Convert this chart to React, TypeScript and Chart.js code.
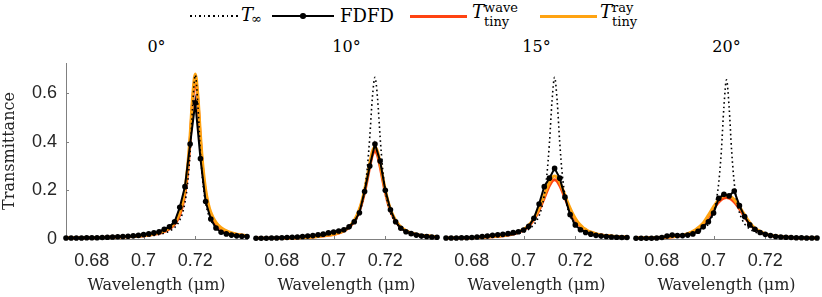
import React, { useEffect, useRef } from 'react';
import { Chart, registerables } from 'chart.js';

Chart.register(...registerables);

// ---------- data ----------
const PANEL_TITLES = ['0°', '10°', '15°', '20°'];

// FDFD sample wavelengths (µm)
const FDFD_WL = [0.670, 0.672, 0.674, 0.676, 0.678, 0.680, 0.682, 0.684, 0.686, 0.688, 0.690, 0.692, 0.694, 0.696, 0.698, 0.700, 0.702, 0.704, 0.706, 0.708, 0.710, 0.712, 0.714, 0.716, 0.718, 0.720, 0.722, 0.724, 0.726, 0.728, 0.730, 0.732, 0.734, 0.736, 0.738, 0.740];

const FDFD_0 = [0.004, 0.004, 0.004, 0.004, 0.005, 0.005, 0.005, 0.006, 0.007, 0.008, 0.009, 0.010, 0.011, 0.013, 0.015, 0.018, 0.021, 0.025, 0.030, 0.040, 0.050, 0.071, 0.130, 0.215, 0.390, 0.560, 0.330, 0.154, 0.082, 0.045, 0.028, 0.021, 0.016, 0.013, 0.011, 0.010];
const FDFD_10 = [0.003, 0.003, 0.003, 0.004, 0.004, 0.005, 0.006, 0.007, 0.008, 0.010, 0.012, 0.014, 0.017, 0.020, 0.025, 0.029, 0.033, 0.038, 0.050, 0.071, 0.108, 0.195, 0.300, 0.390, 0.320, 0.200, 0.120, 0.071, 0.044, 0.030, 0.022, 0.016, 0.012, 0.010, 0.008, 0.007];
const FDFD_15 = [0.004, 0.004, 0.004, 0.005, 0.005, 0.006, 0.008, 0.010, 0.012, 0.015, 0.017, 0.019, 0.022, 0.026, 0.030, 0.037, 0.052, 0.085, 0.144, 0.215, 0.250, 0.290, 0.250, 0.172, 0.100, 0.058, 0.038, 0.027, 0.020, 0.015, 0.012, 0.010, 0.008, 0.007, 0.006, 0.006];
const FDFD_20 = [0.003, 0.003, 0.003, 0.003, 0.004, 0.006, 0.012, 0.016, 0.014, 0.014, 0.016, 0.021, 0.032, 0.050, 0.071, 0.107, 0.167, 0.184, 0.177, 0.197, 0.137, 0.092, 0.058, 0.040, 0.027, 0.019, 0.014, 0.010, 0.008, 0.007, 0.006, 0.005, 0.005, 0.004, 0.004, 0.004];

// wavelengths of the continuous curves (µm)
const CURVE_WL = [0.670, 0.674, 0.678, 0.682, 0.686, 0.690, 0.693, 0.696, 0.698, 0.700, 0.701, 0.702, 0.703, 0.704, 0.705, 0.706, 0.707, 0.708, 0.709, 0.710, 0.711, 0.712, 0.713, 0.714, 0.715, 0.716, 0.717, 0.718, 0.719, 0.720, 0.721, 0.722, 0.723, 0.724, 0.725, 0.726, 0.728, 0.730, 0.733, 0.736, 0.740];

const TINF_0 = [0.005, 0.005, 0.006, 0.006, 0.007, 0.007, 0.008, 0.009, 0.010, 0.011, 0.012, 0.013, 0.014, 0.015, 0.017, 0.019, 0.021, 0.024, 0.028, 0.032, 0.039, 0.047, 0.059, 0.077, 0.104, 0.149, 0.224, 0.355, 0.550, 0.674, 0.550, 0.355, 0.224, 0.149, 0.104, 0.077, 0.047, 0.032, 0.021, 0.015, 0.011];
const WAVE_0 = [0.005, 0.005, 0.005, 0.006, 0.007, 0.008, 0.009, 0.010, 0.011, 0.013, 0.014, 0.015, 0.017, 0.019, 0.021, 0.023, 0.026, 0.030, 0.035, 0.042, 0.050, 0.061, 0.077, 0.100, 0.134, 0.187, 0.271, 0.402, 0.568, 0.658, 0.568, 0.402, 0.271, 0.187, 0.134, 0.100, 0.061, 0.042, 0.026, 0.019, 0.013];
const RAY_0 = [0.005, 0.005, 0.006, 0.006, 0.007, 0.008, 0.009, 0.011, 0.012, 0.014, 0.015, 0.017, 0.018, 0.020, 0.023, 0.026, 0.029, 0.033, 0.039, 0.046, 0.055, 0.068, 0.085, 0.110, 0.147, 0.203, 0.293, 0.427, 0.591, 0.678, 0.591, 0.427, 0.293, 0.203, 0.147, 0.110, 0.068, 0.046, 0.029, 0.020, 0.014];

const TINF_10 = [0.006, 0.007, 0.007, 0.008, 0.009, 0.011, 0.012, 0.015, 0.018, 0.021, 0.023, 0.026, 0.029, 0.034, 0.039, 0.046, 0.055, 0.067, 0.084, 0.108, 0.144, 0.200, 0.287, 0.419, 0.579, 0.664, 0.579, 0.419, 0.287, 0.200, 0.144, 0.108, 0.084, 0.067, 0.055, 0.046, 0.034, 0.026, 0.019, 0.015, 0.012];
const WAVE_10 = [0.003, 0.003, 0.004, 0.004, 0.005, 0.007, 0.009, 0.012, 0.015, 0.018, 0.021, 0.024, 0.028, 0.033, 0.040, 0.048, 0.059, 0.073, 0.092, 0.117, 0.150, 0.192, 0.243, 0.298, 0.344, 0.363, 0.344, 0.298, 0.243, 0.192, 0.150, 0.117, 0.092, 0.073, 0.059, 0.048, 0.033, 0.024, 0.016, 0.012, 0.008];
const RAY_10 = [0.003, 0.003, 0.004, 0.004, 0.005, 0.007, 0.009, 0.013, 0.016, 0.019, 0.022, 0.025, 0.029, 0.035, 0.042, 0.050, 0.062, 0.077, 0.097, 0.123, 0.158, 0.202, 0.255, 0.312, 0.360, 0.379, 0.360, 0.312, 0.255, 0.202, 0.158, 0.123, 0.097, 0.077, 0.062, 0.050, 0.035, 0.025, 0.017, 0.013, 0.009];

const TINF_15 = [0.006, 0.007, 0.007, 0.008, 0.010, 0.012, 0.014, 0.019, 0.023, 0.029, 0.034, 0.040, 0.048, 0.059, 0.074, 0.095, 0.128, 0.179, 0.262, 0.394, 0.566, 0.664, 0.566, 0.394, 0.262, 0.179, 0.128, 0.095, 0.074, 0.059, 0.048, 0.040, 0.034, 0.029, 0.026, 0.023, 0.019, 0.016, 0.013, 0.011, 0.009];
const WAVE_15 = [0.004, 0.004, 0.005, 0.006, 0.008, 0.011, 0.014, 0.020, 0.027, 0.037, 0.044, 0.053, 0.065, 0.080, 0.098, 0.119, 0.143, 0.169, 0.195, 0.219, 0.237, 0.243, 0.237, 0.219, 0.195, 0.169, 0.143, 0.119, 0.098, 0.080, 0.065, 0.053, 0.044, 0.037, 0.031, 0.027, 0.020, 0.016, 0.012, 0.009, 0.007];
const RAY_15 = [0.004, 0.005, 0.005, 0.007, 0.009, 0.012, 0.015, 0.022, 0.029, 0.040, 0.047, 0.057, 0.069, 0.085, 0.104, 0.127, 0.152, 0.180, 0.208, 0.233, 0.252, 0.259, 0.252, 0.233, 0.208, 0.180, 0.152, 0.127, 0.104, 0.085, 0.069, 0.057, 0.047, 0.040, 0.033, 0.029, 0.022, 0.017, 0.013, 0.010, 0.008];

const TINF_20 = [0.007, 0.007, 0.008, 0.010, 0.013, 0.018, 0.025, 0.041, 0.062, 0.109, 0.155, 0.231, 0.360, 0.543, 0.654, 0.543, 0.360, 0.231, 0.155, 0.109, 0.081, 0.062, 0.050, 0.041, 0.034, 0.029, 0.025, 0.022, 0.020, 0.018, 0.016, 0.015, 0.014, 0.013, 0.012, 0.011, 0.010, 0.009, 0.008, 0.007, 0.007];
const WAVE_20 = [0.004, 0.004, 0.005, 0.007, 0.011, 0.020, 0.035, 0.062, 0.092, 0.124, 0.139, 0.152, 0.162, 0.168, 0.170, 0.168, 0.162, 0.152, 0.139, 0.124, 0.108, 0.092, 0.076, 0.062, 0.050, 0.042, 0.035, 0.029, 0.024, 0.020, 0.017, 0.014, 0.012, 0.011, 0.010, 0.009, 0.007, 0.006, 0.005, 0.004, 0.004];
const RAY_20 = [0.004, 0.005, 0.006, 0.008, 0.012, 0.022, 0.038, 0.066, 0.098, 0.133, 0.148, 0.162, 0.172, 0.178, 0.180, 0.178, 0.172, 0.162, 0.148, 0.133, 0.116, 0.099, 0.082, 0.067, 0.054, 0.045, 0.037, 0.031, 0.026, 0.022, 0.018, 0.015, 0.013, 0.012, 0.011, 0.010, 0.008, 0.007, 0.005, 0.005, 0.004];

const X_TICKS = [0.68, 0.7, 0.72];
const X_TICK_LABELS = ['0.68', '0.7', '0.72'];
const Y_TICKS = [0, 0.2, 0.4, 0.6];
const Y_TICK_LABELS = ['0', '0.2', '0.4', '0.6'];

const FDFD = [FDFD_0, FDFD_10, FDFD_15, FDFD_20];
const TINF = [TINF_0, TINF_10, TINF_15, TINF_20];
const WAVE = [WAVE_0, WAVE_10, WAVE_15, WAVE_20];
const RAY = [RAY_0, RAY_10, RAY_15, RAY_20];

// ---------- style / layout ----------
const RED = '#FF4311';
const ORANGE = '#FFA311';
const AXIS_GRAY = '#808080';
const TEXT = '#262626';
const SERIF = '"DejaVu Serif", serif';
const SANS = '"Liberation Sans", Arial, sans-serif';

const AREA_LEFT = [66, 256, 446, 636];
const AREA_WIDTH = 181;
const AREA_TOP = 63;
const AREA_BOTTOM = 239;
const H = 297;

function Panel({ idx }: { idx: number }) {
  const ref = useRef<HTMLCanvasElement>(null);
  const first = idx === 0;
  const padL = first ? 0 : 10;
  const padR = 5;
  const yW = first ? 66 : 0;
  const canvasLeft = AREA_LEFT[idx] - yW - padL;
  const canvasWidth = yW + padL + AREA_WIDTH + padR;

  useEffect(() => {
    const pts = (xs: number[], ys: number[]) => xs.map((x, i) => ({ x, y: ys[i] }));
    const innerTicks = {
      id: 'innerTicks',
      beforeDatasetsDraw(chart: any) {
        const { ctx, chartArea, scales } = chart;
        ctx.save();
        ctx.strokeStyle = AXIS_GRAY;
        ctx.lineWidth = 1;
        X_TICKS.forEach((v) => {
          const px = Math.round(scales.x.getPixelForValue(v)) + 0.5;
          ctx.beginPath();
          ctx.moveTo(px, chartArea.bottom);
          ctx.lineTo(px, chartArea.bottom - 3);
          ctx.stroke();
        });
        if (first) {
          Y_TICKS.forEach((v) => {
            const py = Math.round(scales.y.getPixelForValue(v)) + 0.5;
            ctx.beginPath();
            ctx.moveTo(chartArea.left, py);
            ctx.lineTo(chartArea.left + 3, py);
            ctx.stroke();
          });
        }
        ctx.restore();
      },
    };

    const chart = new Chart(ref.current as HTMLCanvasElement, {
      type: 'line',
      data: {
        datasets: [
          {
            label: 'FDFD',
            data: pts(FDFD_WL, FDFD[idx]),
            borderColor: '#000',
            backgroundColor: '#000',
            borderWidth: 2,
            pointRadius: 2.8,
            pointBorderWidth: 0,
            pointBackgroundColor: '#000',
            tension: 0,
            clip: false,
            order: 1,
          },
          {
            label: 'T_inf',
            data: pts(CURVE_WL, TINF[idx]),
            borderColor: '#000',
            borderWidth: 1.6,
            borderDash: [1.6, 3],
            pointRadius: 0,
            cubicInterpolationMode: 'monotone',
            clip: false,
            order: 2,
          },
          {
            label: 'ray',
            data: pts(CURVE_WL, RAY[idx]),
            borderColor: ORANGE,
            borderWidth: 3,
            pointRadius: 0,
            cubicInterpolationMode: 'monotone',
            clip: false,
            order: 3,
          },
          {
            label: 'wave',
            data: pts(CURVE_WL, WAVE[idx]),
            borderColor: RED,
            borderWidth: 3,
            pointRadius: 0,
            cubicInterpolationMode: 'monotone',
            clip: false,
            order: 4,
          },
        ] as any,
      },
      options: {
        animation: false,
        responsive: false,
        maintainAspectRatio: false,
        events: [],
        layout: { padding: { top: AREA_TOP, bottom: 0, left: padL, right: padR } },
        plugins: {
          legend: { display: false },
          tooltip: { enabled: false },
          title: { display: false },
        },
        scales: {
          x: {
            type: 'linear',
            min: 0.67,
            max: 0.74,
            afterBuildTicks: (s: any) => {
              s.ticks = X_TICKS.map((v) => ({ value: v }));
            },
            afterFit: (s: any) => {
              s.height = H - AREA_BOTTOM;
            },
            ticks: {
              autoSkip: false,
              maxRotation: 0,
              padding: 11,
              color: TEXT,
              font: { family: SANS, size: 18 },
              callback: (_v: any, i: number) => X_TICK_LABELS[i],
            },
            grid: { display: false, drawTicks: false },
            border: { display: true, color: AXIS_GRAY, width: 1 },
            title: {
              display: true,
              text: 'Wavelength (μm)',
              color: TEXT,
              font: { family: SERIF, size: 16 },
              padding: { top: 0, bottom: 2 },
            },
          },
          y: {
            type: 'linear',
            display: first,
            min: 0,
            max: 0.723,
            afterBuildTicks: (s: any) => {
              s.ticks = Y_TICKS.map((v) => ({ value: v }));
            },
            afterFit: (s: any) => {
              s.width = yW;
            },
            ticks: {
              autoSkip: false,
              padding: 9,
              color: TEXT,
              font: { family: SANS, size: 18 },
              callback: (_v: any, i: number) => Y_TICK_LABELS[i],
            },
            grid: { display: false, drawTicks: false },
            border: { display: true, color: AXIS_GRAY, width: 1 },
            title: {
              display: true,
              text: 'Transmittance',
              color: TEXT,
              font: { family: SERIF, size: 16 },
              padding: { top: 0, bottom: 0 },
            },
          },
        },
      } as any,
      plugins: [innerTicks],
    });
    return () => chart.destroy();
  }, []);

  return (
    <canvas
      ref={ref}
      width={canvasWidth}
      height={H}
      style={{ position: 'absolute', left: canvasLeft, top: 0, width: canvasWidth, height: H }}
    />
  );
}

const abs = (o: React.CSSProperties): React.CSSProperties => ({ position: 'absolute', whiteSpace: 'nowrap', ...o });

function Legend() {
  const main: React.CSSProperties = { fontFamily: SERIF, fontSize: 18, lineHeight: '20px', color: '#000' };
  const small: React.CSSProperties = { fontFamily: SERIF, fontSize: 13, lineHeight: '15px', color: '#000' };
  return (
    <>
      {/* T_inf */}
      <div style={abs({ left: 190, top: 15, width: 48, height: 1.6, background: 'repeating-linear-gradient(to right, #000 0 1.6px, transparent 1.6px 4.6px)' })} />
      <div style={abs({ ...main, left: 241, top: 5, fontStyle: 'italic' })}>T</div>
      <div style={abs({ ...small, left: 251, top: 11 })}>∞</div>
      {/* FDFD */}
      <div style={abs({ left: 272, top: 15, width: 62, height: 2, background: '#000' })} />
      <div style={abs({ left: 300, top: 13.2, width: 5.6, height: 5.6, borderRadius: '50%', background: '#000' })} />
      <div style={abs({ ...main, left: 340, top: 6 })}>FDFD</div>
      {/* T_tiny^wave */}
      <div style={abs({ left: 410, top: 14.5, width: 57, height: 3, background: RED })} />
      <div style={abs({ ...main, left: 472, top: 2, fontStyle: 'italic' })}>T</div>
      <div style={abs({ ...small, left: 484, top: 0 })}>wave</div>
      <div style={abs({ ...small, left: 484, top: 14 })}>tiny</div>
      {/* T_tiny^ray */}
      <div style={abs({ left: 540, top: 14.5, width: 57, height: 3, background: ORANGE })} />
      <div style={abs({ ...main, left: 600, top: 2, fontStyle: 'italic' })}>T</div>
      <div style={abs({ ...small, left: 612, top: 0 })}>ray</div>
      <div style={abs({ ...small, left: 612, top: 14 })}>tiny</div>
    </>
  );
}

export default function App() {
  return (
    <div style={{ position: 'absolute', left: 0, top: 0, width: 822, height: 297, background: '#fff', overflow: 'hidden' }}>
      <Legend />
      {PANEL_TITLES.map((t, i) => (
        <div
          key={t}
          style={abs({ left: AREA_LEFT[i], width: AREA_WIDTH, top: 37, textAlign: 'center', fontFamily: SERIF, fontSize: 16, lineHeight: '20px', color: '#000' })}
        >
          {t}
        </div>
      ))}
      {[0, 1, 2, 3].map((i) => (
        <Panel key={i} idx={i} />
      ))}
    </div>
  );
}
